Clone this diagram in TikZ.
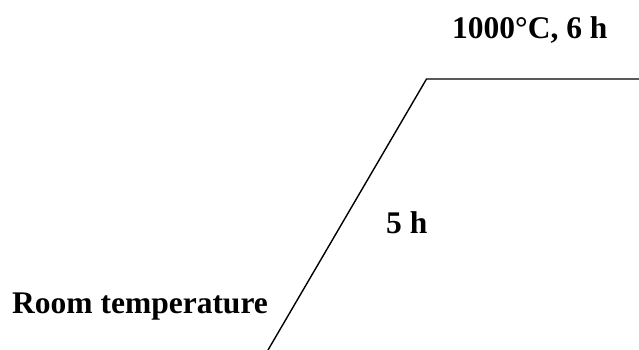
\documentclass[tikz,border=0pt]{standalone}
\usepackage{fontspec}
\setmainfont{Liberation Serif}
\usetikzlibrary{positioning}
\definecolor{ink}{RGB}{0, 0, 0}

\begin{document}
\begin{tikzpicture}[x=1pt, y=-1pt,
            label/.style={inner sep=0pt, anchor=base west, text=ink, font=\fontsize{31.5}{36}\selectfont\bfseries},
            profile/.style={draw=ink, line width=1.4pt, line join=miter}
        ]
            \useasboundingbox (0,0) rectangle (639,350);

            \coordinate (start) at (268,350);
            \coordinate (hold) at (426.5,79);
            \coordinate (stop) at (639,79);

            \node[label] (room) at (12,313) {Room temperature};
            \node[label] (ramp) at (386,233) {5 h};
            \node[label] (top) at (452,39) {1000°C, 6 h};

            \draw[profile] (start) -- (hold) -- (stop);
        \end{tikzpicture}
\end{document}
